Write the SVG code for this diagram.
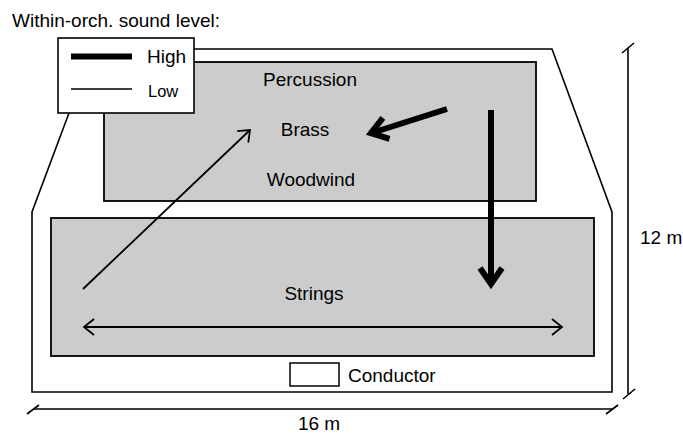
<svg xmlns="http://www.w3.org/2000/svg" width="683" height="434" viewBox="0 0 683 434">
<style>
text{font-family:"Liberation Sans",Arial,sans-serif;font-size:19px;fill:#000}
.ln{fill:none;stroke:#000;stroke-width:1.6}
.area{fill:#cccccc;stroke:#000;stroke-width:1.8}
.thick{fill:none;stroke:#000;stroke-width:6}
.thin{fill:none;stroke:#000;stroke-width:1.8}
</style>
<defs>
<marker id="hThick" markerUnits="userSpaceOnUse" viewBox="-30 -20 40 40" markerWidth="40" markerHeight="40" refX="0" refY="0" orient="auto">
<path d="M-17,-11 L-1,0 L-17,11" fill="none" stroke="#000" stroke-width="6"/>
</marker>
<marker id="hThin" markerUnits="userSpaceOnUse" viewBox="-20 -20 30 40" markerWidth="30" markerHeight="40" refX="0" refY="0" orient="auto-start-reverse">
<path d="M-10,-8 L0,0 L-10,8" fill="none" stroke="#000" stroke-width="1.8"/>
</marker>
</defs>
<g id="stage">
<polyline class="ln" points="69,113 32,212 32,392 612,392 612,212 552,49 190,49"/>
</g>
<g id="upper-section">
<rect class="area" x="104" y="62" width="432" height="139"/>
<text x="310" y="86" text-anchor="middle">Percussion</text>
<text x="305" y="136" text-anchor="middle">Brass</text>
<text x="311" y="186" text-anchor="middle">Woodwind</text>
</g>
<g id="strings">
<rect class="area" x="51" y="218" width="543" height="138"/>
<text x="314" y="300" text-anchor="middle">Strings</text>
</g>
<g id="conductor">
<rect x="290" y="363" width="49" height="23" fill="#fff" stroke="#000" stroke-width="1.5"/>
<text x="348" y="382">Conductor</text>
</g>
<g id="legend">
<text x="12" y="27">Within-orch. sound level:</text>
<rect x="58" y="38" width="136" height="75" fill="#fff" stroke="#000" stroke-width="1.6"/>
<line x1="71" y1="56.5" x2="132" y2="56.5" stroke="#000" stroke-width="6"/>
<text x="147" y="63">High</text>
<line x1="71" y1="89" x2="132" y2="89" stroke="#000" stroke-width="1.5"/>
<text x="148" y="97" style="font-size:16.5px">Low</text>
</g>
<g id="connectors">
<line class="thick" x1="447" y1="109" x2="370" y2="133.5" marker-end="url(#hThick)"/>
<line class="thick" x1="491" y1="110" x2="491" y2="285" marker-end="url(#hThick)"/>
<line class="thin" x1="83" y1="289" x2="250" y2="130" marker-end="url(#hThin)"/>
<line class="thin" x1="84" y1="327" x2="562" y2="327" marker-start="url(#hThin)" marker-end="url(#hThin)"/>
</g>
<g id="dimensions">
<line class="ln" x1="628" y1="48" x2="628" y2="394"/>
<line class="ln" x1="622" y1="53" x2="634" y2="43"/>
<line class="ln" x1="623" y1="399" x2="635" y2="389"/>
<text x="640" y="244">12 m</text>
<line class="ln" x1="33" y1="409" x2="612" y2="409"/>
<line class="ln" x1="27" y1="414" x2="39" y2="405"/>
<line class="ln" x1="606" y1="414" x2="618" y2="405"/>
<text x="319" y="430" text-anchor="middle">16 m</text>
</g>
</svg>
